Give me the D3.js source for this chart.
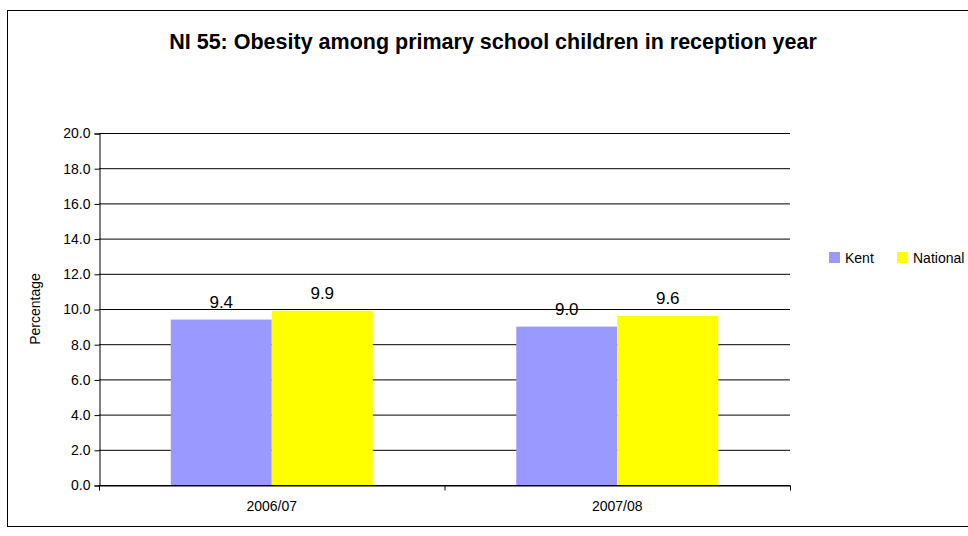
<!DOCTYPE html>
<html>
<head>
<meta charset="utf-8">
<script src="https://cdn.jsdelivr.net/npm/d3@7"></script>
<style>
  body { margin: 0; background: #fff; overflow: hidden; }
  text { font-family: "Liberation Sans", Arial, sans-serif; }
</style>
</head>
<body>
<svg id="chart" width="968" height="536"></svg>
<script>
// Chart data
var years = ["2006/07", "2007/08"];
var seriesNames = ["Kent", "National"];
var kentValues = [9.4, 9.0];
var nationalValues = [9.9, 9.6];
var yTicks = [0, 2, 4, 6, 8, 10, 12, 14, 16, 18, 20];
var colors = ["#9999ff", "#ffff00"];

var svg = d3.select("#chart");
var plotLeft = 99, plotRight = 790, plotTop = 133, plotBottom = 485;

// outer frame
svg.append("rect").attr("x", 7.5).attr("y", 10.5).attr("width", 975).attr("height", 516)
  .attr("fill", "none").attr("stroke", "#000");

svg.append("text").attr("x", 493).attr("y", 49).attr("text-anchor", "middle")
  .attr("font-size", 21.5).attr("font-weight", "bold")
  .text("NI 55: Obesity among primary school children in reception year");

var x = d3.scaleBand().domain(years).range([plotLeft, plotRight]);
var xs = d3.scaleBand().domain(seriesNames).range([0, 202]);
var y = d3.scaleLinear().domain([0, 20]).range([plotBottom, plotTop]);

// gridlines
svg.append("g").selectAll("line").data(yTicks).join("line")
  .attr("x1", plotLeft).attr("x2", plotRight)
  .attr("y1", d => y(d) + 0.5).attr("y2", d => y(d) + 0.5)
  .attr("stroke", "#000");

// bars
var data = [kentValues, nationalValues];
years.forEach((yr, i) => {
  seriesNames.forEach((s, j) => {
    var v = data[j][i];
    var bx = x(yr) + (x.bandwidth() - 202) / 2 + xs(s);
    svg.append("rect").attr("x", bx).attr("y", y(v))
      .attr("width", xs.bandwidth()).attr("height", y(0) - y(v))
      .attr("fill", colors[j]);
    svg.append("text").attr("x", bx + xs.bandwidth() / 2).attr("y", y(v) - 12)
      .attr("text-anchor", "middle").attr("font-size", 17).text(v.toFixed(1));
  });
});

// y axis
var yAxis = d3.axisLeft(y).tickValues(yTicks).tickFormat(d3.format(".1f")).tickSize(5).tickPadding(4);
var ga = svg.append("g").attr("transform", "translate(" + (plotLeft + 0.5) + ",0.5)").call(yAxis);
ga.select(".domain").attr("stroke", "#000");
ga.selectAll("text").attr("font-size", 14).attr("fill", "#000")
  .attr("font-family", "Liberation Sans, Arial, sans-serif");

// x axis
var xAxis = d3.axisBottom(x).tickSize(0).tickPadding(16);
var gx = svg.append("g").attr("transform", "translate(0," + (plotBottom + 0.5) + ")").call(xAxis);
gx.select(".domain").attr("stroke", "#000");
gx.selectAll("text").attr("font-size", 14).attr("fill", "#000")
  .attr("font-family", "Liberation Sans, Arial, sans-serif");
gx.append("g").selectAll("line").data([plotLeft, (plotLeft + plotRight) / 2, plotRight]).join("line")
  .attr("x1", d => d + 0.5).attr("x2", d => d + 0.5).attr("y1", 0).attr("y2", 5).attr("stroke", "#000");

svg.append("text").attr("transform", "translate(40,309) rotate(-90)")
  .attr("text-anchor", "middle").attr("font-size", 14).text("Percentage");

// legend
var legendX = [829, 897];
seriesNames.forEach((s, j) => {
  svg.append("rect").attr("x", legendX[j]).attr("y", 252).attr("width", 11).attr("height", 11)
    .attr("fill", colors[j]);
  svg.append("text").attr("x", legendX[j] + 16).attr("y", 263).attr("font-size", 14).text(s);
});
</script>
</body>
</html>
